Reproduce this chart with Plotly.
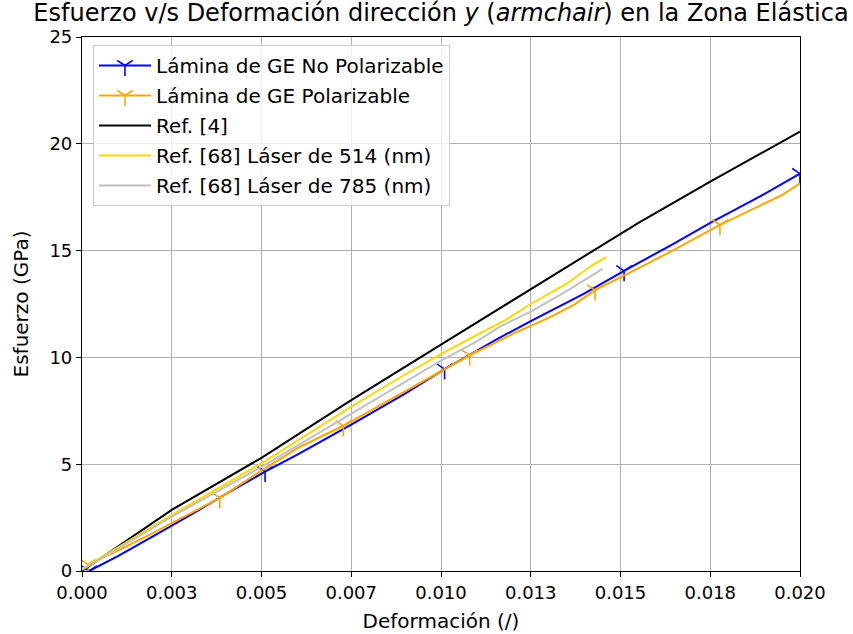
import plotly.graph_objects as go

# ---- data ----
blue_x = [0.0002, 0.0010, 0.0020, 0.0030, 0.0040, 0.0051, 0.0060, 0.0075, 0.0090, 0.0101,
          0.0115, 0.0125, 0.0140, 0.0151, 0.0164, 0.0175, 0.0189, 0.0200]
blue_y = [0.0, 0.7, 1.65, 2.6, 3.6, 4.65, 5.45, 6.85, 8.3, 9.45,
          10.8, 11.7, 13.0, 14.05, 15.25, 16.3, 17.55, 18.6]
blue_marks = [0, 5, 9, 13, 17]

orange_x = [0.00017, 0.0010, 0.0020, 0.0030, 0.00384, 0.0050, 0.0060, 0.00728, 0.0090, 0.0108,
            0.0120, 0.0130, 0.01369, 0.01429, 0.0150, 0.0164, 0.01777, 0.0189, 0.0195, 0.0200]
orange_y = [0.3, 0.95, 1.8, 2.7, 3.42, 4.7, 5.75, 6.8, 8.4, 10.1,
            11.1, 11.85, 12.45, 13.15, 13.75, 14.95, 16.2, 17.1, 17.6, 18.15]
orange_marks = [0, 4, 7, 9, 13, 16]

black_x = [0.0, 0.0025, 0.0050, 0.0075, 0.0100, 0.0125, 0.0150, 0.0155, 0.0175, 0.0200]
black_y = [0.0, 2.86, 5.3, 8.0, 10.6, 13.2, 15.8, 16.3, 18.23, 20.57]

yellow_x = [0.0, 0.0025, 0.0050, 0.0075, 0.0090, 0.0100, 0.0110, 0.0118, 0.0125, 0.0135, 0.0142, 0.0146]
yellow_y = [0.1, 2.62, 5.04, 7.69, 9.2, 10.15, 11.05, 11.75, 12.5, 13.45, 14.3, 14.69]

gray_x = [0.0, 0.0025, 0.0050, 0.0075, 0.0100, 0.0110, 0.01164, 0.0125, 0.0135, 0.0145]
gray_y = [0.05, 2.54, 4.88, 7.38, 9.85, 10.75, 11.44, 12.14, 13.1, 14.14]

x_tickvals = [0.0, 0.0025, 0.005, 0.0075, 0.010, 0.0125, 0.015, 0.0175, 0.020]
x_ticktext = ["0.000", "0.003", "0.005", "0.007", "0.010", "0.013", "0.015", "0.018", "0.020"]
y_tickvals = [0, 5, 10, 15, 20, 25]

names = ["Lámina de GE No Polarizable", "Lámina de GE Polarizable", "Ref. [4]",
         "Ref. [68] Láser de 514 (nm)", "Ref. [68] Láser de 785 (nm)"]

fig = go.Figure()

def marked_series(xs, ys, idx, color, name, grp):
    fig.add_trace(go.Scatter(x=xs, y=ys, mode="lines", line=dict(color=color, width=2),
                             showlegend=False, legendgroup=grp, hoverinfo="skip"))
    fig.add_trace(go.Scatter(x=[xs[i] for i in idx], y=[ys[i] for i in idx], mode="markers",
                             marker=dict(symbol="y-down", size=13, color=color,
                                         line=dict(color=color, width=1.6)),
                             showlegend=False, legendgroup=grp))
    fig.add_trace(go.Scatter(x=[None], y=[None], mode="lines+markers", name=name,
                             line=dict(color=color, width=2),
                             marker=dict(symbol="y-down", size=13, color=color,
                                         line=dict(color=color, width=1.6)),
                             legendgroup=grp))

marked_series(blue_x, blue_y, blue_marks, "#0000ff", names[0], "g1")
marked_series(orange_x, orange_y, orange_marks, "#ffa500", names[1], "g2")
fig.add_trace(go.Scatter(x=black_x, y=black_y, mode="lines", name=names[2],
                         line=dict(color="#000000", width=2), legendgroup="g3"))
fig.add_trace(go.Scatter(x=yellow_x, y=yellow_y, mode="lines", name=names[3],
                         line=dict(color="#ffd700", width=2), legendgroup="g4"))
fig.add_trace(go.Scatter(x=gray_x, y=gray_y, mode="lines", name=names[4],
                         line=dict(color="#c0c0c0", width=2), legendgroup="g5"))

font = "DejaVu Sans"
fig.update_layout(
    width=853, height=634,
    margin=dict(l=82, r=53, t=37, b=63),
    paper_bgcolor="white", plot_bgcolor="white",
    font=dict(family=font, size=18, color="#000000"),
    title=dict(text="Esfuerzo v/s Deformación dirección <i>y</i> (<i>armchair</i>) en la Zona Elástica",
               x=0.5, xref="paper", xanchor="center",
               y=1 - 13 / 634, yref="container", yanchor="middle",
               font=dict(family=font, size=24, color="#000000")),
    legend=dict(x=0.0153, y=0.985, xanchor="left", yanchor="top",
                bgcolor="rgba(255,255,255,0.8)", bordercolor="#cccccc", borderwidth=1,
                font=dict(family=font, size=20), tracegroupgap=1, traceorder="grouped",
                itemwidth=52),
    showlegend=True,
)
fig.update_xaxes(range=[0, 0.02], tickvals=x_tickvals, ticktext=x_ticktext,
                 tickfont=dict(size=18), automargin=False,
                 showgrid=True, gridcolor="#b0b0b0", gridwidth=1, zeroline=False,
                 showline=True, linecolor="black", linewidth=1.2, mirror=True,
                 ticks="outside", ticklen=5, tickcolor="black",
                 title=dict(text="Deformación (/)", standoff=12, font=dict(size=20)))
fig.update_yaxes(range=[0, 25], tickvals=y_tickvals, tickfont=dict(size=18), automargin=False,
                 showgrid=True, gridcolor="#b0b0b0", gridwidth=1, zeroline=False,
                 showline=True, linecolor="black", linewidth=1.2, mirror=True,
                 ticks="outside", ticklen=5, tickcolor="black",
                 title=dict(text="Esfuerzo (GPa)", standoff=15, font=dict(size=20)))

fig.write_html("out.html")
